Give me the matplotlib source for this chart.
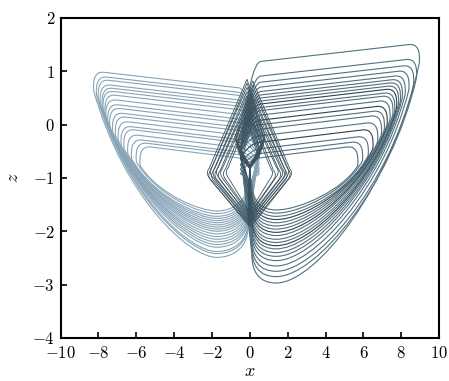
import numpy as np
import matplotlib.pyplot as plt
from matplotlib.path import Path
from matplotlib.patches import PathPatch
from matplotlib.ticker import FuncFormatter

plt.rcParams['mathtext.fontset'] = 'cm'
plt.rcParams['font.family'] = 'DejaVu Serif'

# loops of the left wing: corner |x|, corner z, bottom z
left_corner_x = [8.30, 8.15, 8.05, 7.95, 7.85, 7.80, 7.70, 7.65, 7.55, 7.45,
                 7.30, 7.15, 7.00, 6.85, 6.70, 6.50, 6.30, 6.05, 5.85]
left_corner_z = [0.98, 0.89, 0.83, 0.74, 0.68, 0.62, 0.55, 0.46, 0.37, 0.30,
                 0.21, 0.14, 0.05, -0.04, -0.10, -0.20, -0.29, -0.35, -0.42]
left_bottom_z = [-2.49, -2.42, -2.38, -2.30, -2.25, -2.20, -2.15, -2.10, -2.05, -2.00,
                 -1.96, -1.92, -1.88, -1.84, -1.80, -1.76, -1.72, -1.67, -1.62]

# loops of the right wing
right_corner_x = [9.00, 8.85, 8.70, 8.45, 8.25, 8.10, 8.00, 7.90, 7.80, 7.70,
                  7.60, 7.45, 7.30, 7.15, 7.00, 6.80, 6.55, 6.30, 6.00, 5.75]
right_corner_z = [1.50, 1.22, 1.10, 1.00, 0.91, 0.84, 0.78, 0.72, 0.66, 0.59,
                  0.53, 0.44, 0.34, 0.25, 0.16, 0.03, -0.10, -0.23, -0.33, -0.42]
right_bottom_z = [-2.97, -2.85, -2.75, -2.65, -2.55, -2.47, -2.40, -2.33, -2.27, -2.21,
                  -2.15, -2.08, -2.02, -1.96, -1.90, -1.84, -1.78, -1.72, -1.66, -1.60]

# small loops of the central tower / diamond: side, vertex |x|, vertex z, apex z, low z
tower_side = [-1, 1, -1, 1, -1, 1, -1, 1, -1, 1, -1, 1,
              -1, 1, -1, 1, -1, 1, -1, 1, -1, 1]
tower_vx   = [2.30, 2.25, 2.22, 2.18, 2.15, 2.10, 2.08, 2.02, 2.00, 1.95, 1.90, 1.88,
              1.82, 1.78, 1.72, 1.68, 1.60, 1.55, 1.45, 1.40, 1.30, 1.25]
tower_vz   = [-0.90, -0.90, -0.94, -0.92, -0.87, -0.88, -0.95, -0.94, -0.90, -0.89, -0.93, -0.92,
              -0.88, -0.90, -0.94, -0.93, -0.90, -0.88, -0.92, -0.94, -0.89, -0.90]
tower_apex = [0.85, 0.82, 0.78, 0.74, 0.70, 0.66, 0.62, 0.58, 0.54, 0.50, 0.46, 0.42,
              0.38, 0.34, 0.30, 0.26, 0.22, 0.18, 0.14, 0.10, 0.06, 0.02]
tower_low  = [-1.90, -1.92, -1.87, -1.88, -1.85, -1.84, -1.82, -1.82, -1.80, -1.79, -1.77, -1.76,
              -1.74, -1.73, -1.71, -1.70, -1.68, -1.67, -1.65, -1.64, -1.62, -1.60]


def wing_path(s, uc, zc, zb, ub, k1, k2, k3):
    zt = zc - 0.035 * uc
    zcusp = zb + 0.55
    p0u, p0z = uc - 0.05, zc - 0.35
    pts = [(0.1, zcusp), (-0.5, min(zt - 0.3, -0.5)),
           (0.0, zt), (0.6, zt),
           (uc - 0.6, zc),
           (uc + 0.05, zc + 0.03), (p0u, p0z),
           (p0u - k1 * (p0u - ub), p0z - k2 * (p0z - zb)), (ub + k3 * (p0u - ub), zb), (ub, zb),
           (ub - 0.9, zb), (0.1, zb + 0.2), (0.1, zcusp)]
    codes = [Path.MOVETO, Path.LINETO, Path.CURVE3, Path.CURVE3, Path.LINETO,
             Path.CURVE3, Path.CURVE3, Path.CURVE4, Path.CURVE4, Path.CURVE4,
             Path.CURVE4, Path.CURVE4, Path.CURVE4]
    verts = [(s * u, z) for u, z in pts]
    return Path(verts, codes)


def tower_path(s, uv, zv, za, zl):
    # up across the tower, over the apex, down the outer edge to the vertex, back to the cusp
    pts = [(0.05, zl), (0.02, zv + 0.1), (-0.35 * uv, 0.5 * (za + zv) - 0.2), (0.15, za),
           (uv - 0.15, zv + 0.08), (uv + 0.05, zv), (uv - 0.15, zv - 0.1),
           (0.05, zl)]
    codes = [Path.MOVETO, Path.LINETO, Path.LINETO, Path.LINETO, Path.LINETO,
             Path.CURVE3, Path.CURVE3, Path.LINETO]
    verts = [(s * u, z) for u, z in pts]
    return Path(verts, codes)


fig = plt.figure(figsize=(4.49, 3.81), dpi=100)
ax = fig.add_axes([0.135, 0.113, 0.843, 0.840])

for uc, zc, zb in zip(left_corner_x, left_corner_z, left_bottom_z):
    p = wing_path(-1, uc, zc, zb, 1.75, 0.25, 0.65, 0.22)
    ax.add_patch(PathPatch(p, facecolor='none', edgecolor='#87a4b7', lw=0.8))

for i, (uc, zc, zb) in enumerate(zip(right_corner_x, right_corner_z, right_bottom_z)):
    col = '#2f434d' if i in (8, 12, 16) else '#52707f'
    p = wing_path(1, uc, zc, zb, 1.4, 0.18, 0.55, 0.28)
    ax.add_patch(PathPatch(p, facecolor='none', edgecolor=col, lw=0.8))

for s, uv, zv, za, zl in zip(tower_side, tower_vx, tower_vz, tower_apex, tower_low):
    p = tower_path(s, uv, zv, za, zl)
    ax.add_patch(PathPatch(p, facecolor='none', edgecolor='#3c535f', lw=0.6))

ax.set_xlim(-10, 10)
ax.set_ylim(-4, 2)
ax.set_xticks(np.arange(-10, 11, 2))
ax.set_yticks(np.arange(-4, 3, 1))
fmt = FuncFormatter(lambda v, p: '$%g$' % v)
ax.xaxis.set_major_formatter(fmt)
ax.yaxis.set_major_formatter(fmt)
ax.tick_params(direction='in', length=4, width=1.2, labelsize=12)
ax.tick_params(axis='x', pad=5)
ax.tick_params(axis='y', pad=4)
for sp in ax.spines.values():
    sp.set_linewidth(1.5)
ax.set_xlabel('$x$', fontsize=13, labelpad=0)
ax.set_ylabel('$z$', fontsize=13, labelpad=7)

fig.savefig('out.png', dpi=100)
